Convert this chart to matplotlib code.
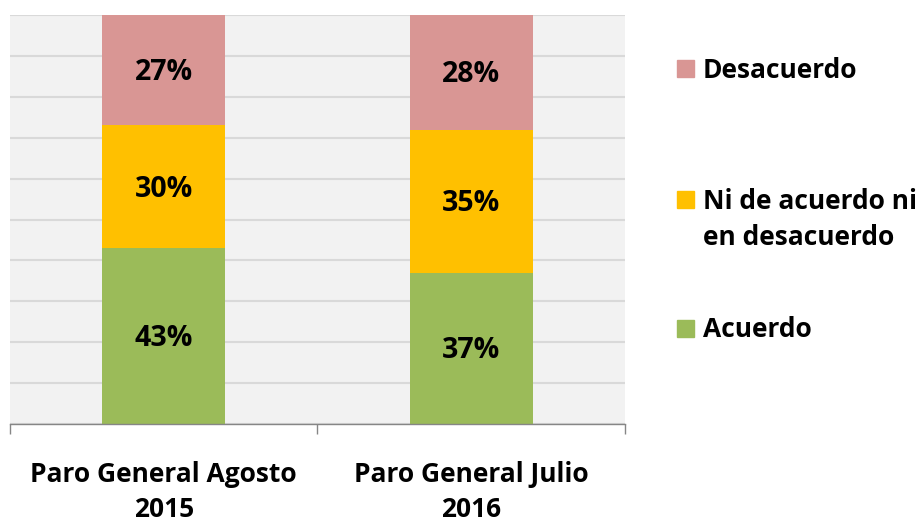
import numpy as np
import matplotlib.pyplot as plt
from matplotlib.patches import Rectangle

# Data
categories = ["Paro General Agosto\n2015", "Paro General Julio\n2016"]
series_names = ["Acuerdo", "Ni de acuerdo ni\nen desacuerdo", "Desacuerdo"]
acuerdo = [43, 37]
ni_ni = [30, 35]
desacuerdo = [27, 28]
colors = ["#9BBB59", "#FFC000", "#D99694"]

plt.rcParams['font.family'] = ['Open Sans', 'DejaVu Sans']
plt.rcParams['font.weight'] = 'bold'

fig = plt.figure(figsize=(9.2, 5.24), dpi=100)
ax = fig.add_axes([10 / 920, 100 / 524, 615 / 920, 409 / 524])
ax.set_facecolor("#F2F2F2")

x = np.arange(len(categories))
bottom = np.zeros(len(categories))
for vals, color in zip([acuerdo, ni_ni, desacuerdo], colors):
    bars = ax.bar(x, vals, width=0.4, bottom=bottom, color=color, zorder=3)
    for rect, v in zip(bars, vals):
        ax.text(rect.get_x() + rect.get_width() / 2, rect.get_y() + v / 2 - 0.6, f"{v}%",
                ha="center", va="center", fontsize=20.5, fontweight="bold", zorder=4)
    bottom += vals

ax.set_xlim(-0.5, 1.5)
ax.set_ylim(0, 100)
ax.set_yticks(np.arange(0, 101, 10))
ax.yaxis.grid(True, color="#D9D9D9", linewidth=1.5, zorder=0)
ax.tick_params(axis="y", left=False, labelleft=False)

ax.set_xticks(x)
ax.set_xticklabels(categories, fontsize=19, fontweight="bold", linespacing=1.35)
ax.set_xticks([-0.5, 0.5, 1.5], minor=True)
ax.tick_params(axis="x", which="major", length=0, pad=27)
ax.tick_params(axis="x", which="minor", length=7, color="#868686", width=1)

for side in ["left", "right", "top"]:
    ax.spines[side].set_visible(False)
ax.spines["bottom"].set_color("#868686")
ax.spines["bottom"].set_linewidth(1)
ax.spines["bottom"].set_zorder(5)

# Legend drawn by hand to match the spacing of the original
legend_y = [69, 200, 328]  # pixel rows from top for Desacuerdo, Ni..., Acuerdo
for name, color, ypix in zip(series_names[::-1], colors[::-1], legend_y):
    fy = 1 - ypix / 524
    fig.patches.append(Rectangle((677 / 920, fy - 8.5 / 524), 17 / 920, 17 / 524,
                                 transform=fig.transFigure, color=color))
    fig.text(703 / 920, fy + 12 / 524, name, ha="left", va="top", fontsize=19,
             fontweight="bold", linespacing=1.45)

fig.savefig("out.png", dpi=100)
